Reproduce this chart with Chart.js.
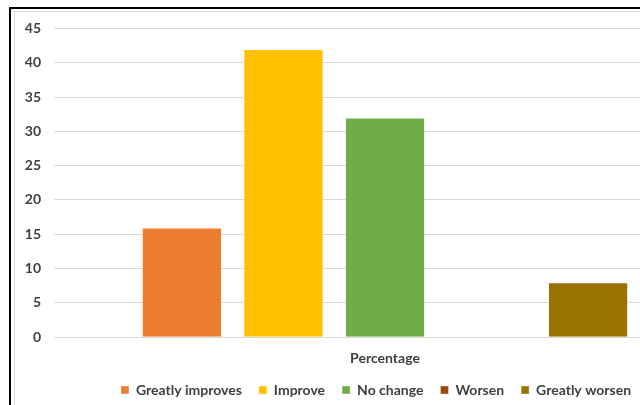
<!DOCTYPE html>
<html>
<head>
<meta charset="utf-8">
<script src="https://cdn.jsdelivr.net/npm/chart.js@4"></script>
<style>
  html, body { margin: 0; padding: 0; background: #fff; overflow: hidden; width: 640px; height: 405px; }
  #frame {
    position: absolute; left: 9px; top: 7px;
    width: 760px; height: 440px;
    border-left: 2px solid #000; border-top: 2px solid #000;
  }
  #inner {
    position: absolute; left: 3px; top: 2px;
    width: 740px; height: 420px;
    border-left: 1px solid #d9d9d9; border-top: 1px solid #d9d9d9;
  }
  #wrap { position: absolute; left: 12px; top: 7px; width: 704px; height: 406px; }
</style>
</head>
<body>
<div id="frame"><div id="inner"></div></div>
<div id="wrap"><canvas id="c"></canvas></div>
<script>
// One category, five answer groups shown side by side
const categories = ['Percentage'];
const seriesNames = ['Greatly improves', 'Improve', 'No change', 'Worsen', 'Greatly worsen'];
const seriesValues = [16, 42, 32, 0, 8];
const seriesColors = ['#ED7D31', '#FFC000', '#70AD47', '#9E480E', '#997300'];
const yTicks = [0, 5, 10, 15, 20, 25, 30, 35, 40, 45];

const font = { family: 'Lato, "Open Sans", sans-serif', size: 14, weight: 'bold' };
const textColor = '#404040';

// Pull the legend a little closer to the axis label and centre it under the bars
const legendNudge = {
  id: 'legendNudge',
  afterLayout(chart) {
    const lg = chart.legend;
    lg.left += 11;
    lg.top -= 6;
    lg.bottom -= 6;
  }
};

new Chart(document.getElementById('c'), {
  type: 'bar',
  plugins: [legendNudge],
  data: {
    labels: categories,
    datasets: seriesNames.map((name, i) => ({
      label: name,
      data: [seriesValues[i]],
      backgroundColor: seriesColors[i],
      borderColor: 'rgba(255,255,255,0.35)',
      borderWidth: 1,
      categoryPercentage: 0.767,
      barPercentage: 0.79
    }))
  },
  options: {
    responsive: true,
    maintainAspectRatio: false,
    animation: false,
    layout: { padding: { left: 13, right: 0, top: 3, bottom: 0 } },
    plugins: {
      tooltip: { enabled: false },
      legend: {
        position: 'bottom',
        labels: {
          font: font, color: textColor,
          boxWidth: 8, boxHeight: 8, padding: 17
        }
      }
    },
    scales: {
      x: {
        grid: { display: false },
        border: { display: false },
        ticks: { font: font, color: textColor, padding: 5 }
      },
      y: {
        min: 0, max: 45,
        afterBuildTicks: (axis) => { axis.ticks = yTicks.map(v => ({ value: v })); },
        afterFit: (axis) => { axis.width = 29; },
        grid: { color: '#d9d9d9', lineWidth: 1, drawTicks: false },
        border: { display: false },
        ticks: { font: font, color: textColor, padding: 13 }
      }
    }
  }
});
</script>
</body>
</html>
